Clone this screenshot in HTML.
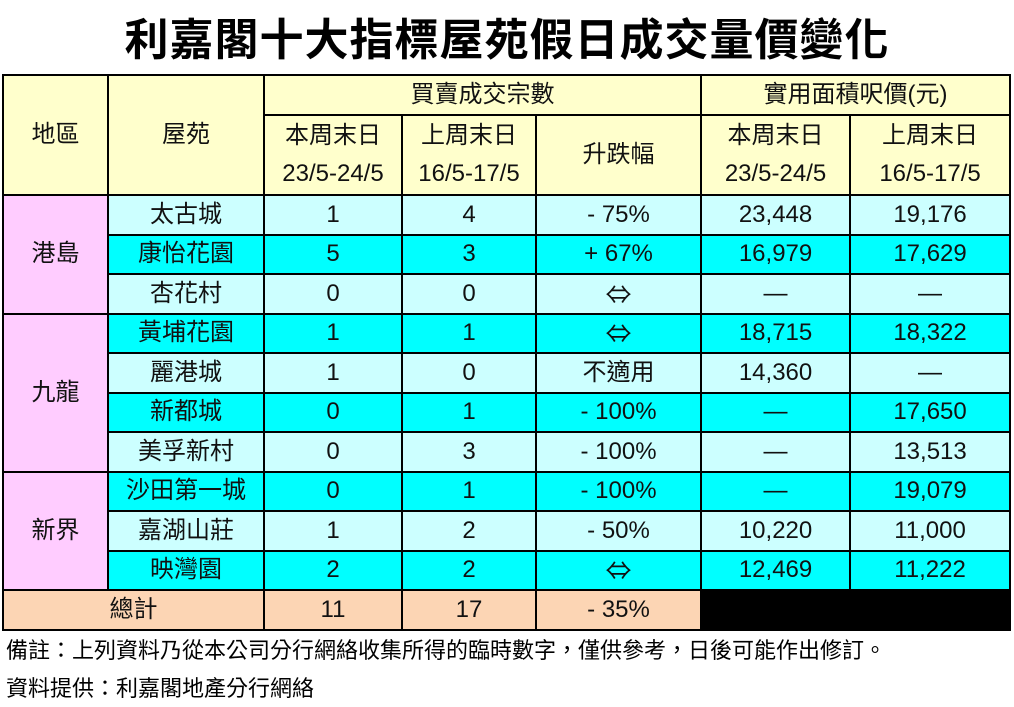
<!DOCTYPE html>
<html><head><meta charset="utf-8"><style>
body{margin:0;width:1014px;height:707px;background:#fff;position:relative;font-family:"Liberation Sans","Noto Sans CJK TC",sans-serif;overflow:hidden}
.t{position:absolute;left:0;width:1014px;top:6px;text-align:center;font-size:44px;font-weight:bold;font-family:"Noto Sans CJK TC","WenQuanYi Zen Hei",sans-serif;letter-spacing:1px;line-height:60px}
table{position:absolute;left:2px;top:74px;border-collapse:collapse;table-layout:fixed;width:1007px}
td{border:2px solid #000;text-align:center;font-size:24px;padding:0;line-height:26px;color:#111}
.h{background:#ffffcc}.r{background:#ffccff}.l{background:#ccffff}.c{background:#00ffff}.p{background:#fcd5b4}.k{background:#000}
tr.d{height:39.5px}
.a{font-family:"Noto Sans CJK TC",sans-serif;font-size:26px}
.f{position:absolute;left:6px;font-size:22px;font-family:"Liberation Sans","Noto Sans CJK TC",sans-serif}
</style></head><body>
<div class="t">利嘉閣十大指標屋苑假日成交量價變化</div>
<table>
<colgroup><col style="width:105px"><col style="width:156px"><col style="width:138px"><col style="width:134px"><col style="width:165px"><col style="width:149px"><col style="width:160px"></colgroup>
<tr style="height:40px"><td class="h" rowspan="2">地區</td><td class="h" rowspan="2">屋苑</td><td class="h" colspan="3">買賣成交宗數</td><td class="h" colspan="2">實用面積呎價(元)</td></tr>
<tr style="height:80px"><td class="h" style="line-height:38px">本周末日<br>23/5-24/5</td><td class="h" style="line-height:38px">上周末日<br>16/5-17/5</td><td class="h">升跌幅</td><td class="h" style="line-height:38px">本周末日<br>23/5-24/5</td><td class="h" style="line-height:38px">上周末日<br>16/5-17/5</td></tr>
<tr class="d"><td class="r" rowspan="3">港島</td><td class="l">太古城</td><td class="l">1</td><td class="l">4</td><td class="l">- 75%</td><td class="l">23,448</td><td class="l">19,176</td></tr>
<tr class="d"><td class="c">康怡花園</td><td class="c">5</td><td class="c">3</td><td class="c">+ 67%</td><td class="c">16,979</td><td class="c">17,629</td></tr>
<tr class="d"><td class="l">杏花村</td><td class="l">0</td><td class="l">0</td><td class="l a">⇔</td><td class="l">—</td><td class="l">—</td></tr>
<tr class="d"><td class="r" rowspan="4">九龍</td><td class="c">黃埔花園</td><td class="c">1</td><td class="c">1</td><td class="c a">⇔</td><td class="c">18,715</td><td class="c">18,322</td></tr>
<tr class="d"><td class="l">麗港城</td><td class="l">1</td><td class="l">0</td><td class="l">不適用</td><td class="l">14,360</td><td class="l">—</td></tr>
<tr class="d"><td class="c">新都城</td><td class="c">0</td><td class="c">1</td><td class="c">- 100%</td><td class="c">—</td><td class="c">17,650</td></tr>
<tr class="d"><td class="l">美孚新村</td><td class="l">0</td><td class="l">3</td><td class="l">- 100%</td><td class="l">—</td><td class="l">13,513</td></tr>
<tr class="d"><td class="r" rowspan="3">新界</td><td class="c">沙田第一城</td><td class="c">0</td><td class="c">1</td><td class="c">- 100%</td><td class="c">—</td><td class="c">19,079</td></tr>
<tr class="d"><td class="l">嘉湖山莊</td><td class="l">1</td><td class="l">2</td><td class="l">- 50%</td><td class="l">10,220</td><td class="l">11,000</td></tr>
<tr class="d"><td class="c">映灣園</td><td class="c">2</td><td class="c">2</td><td class="c a">⇔</td><td class="c">12,469</td><td class="c">11,222</td></tr>
<tr class="d"><td class="p" colspan="2">總計</td><td class="p">11</td><td class="p">17</td><td class="p">- 35%</td><td class="k" colspan="2"></td></tr>
</table>
<div class="f" style="top:633px">備註：上列資料乃從本公司分行網絡收集所得的臨時數字，僅供參考，日後可能作出修訂。</div>
<div class="f" style="top:671px">資料提供：利嘉閣地產分行網絡</div>
</body></html>
